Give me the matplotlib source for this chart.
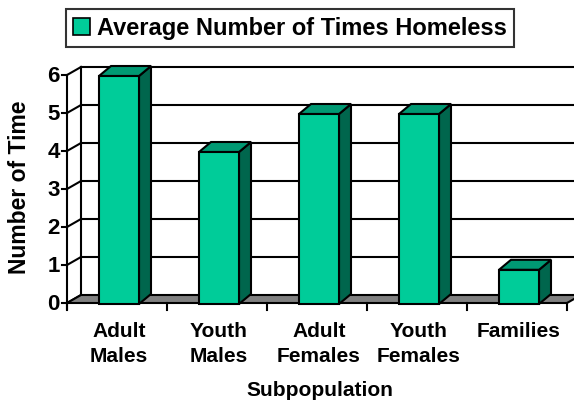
import matplotlib
matplotlib.use('Agg')
import matplotlib.pyplot as plt
import matplotlib.transforms as mtransforms
from matplotlib.patches import Polygon, Patch
from matplotlib.lines import Line2D
from matplotlib.transforms import IdentityTransform
import numpy as np

# ---- data ----
categories = ["Adult\nMales", "Youth\nMales", "Adult\nFemales", "Youth\nFemales", "Families"]
values = [6, 4, 5, 5, 0.9]
yticks = [0, 1, 2, 3, 4, 5, 6]
series_name = "Average Number of Times Homeless"
xlabel = "Subpopulation"
ylabel = "Number of Time"

plt.rcParams['font.family'] = ['Liberation Sans', 'DejaVu Sans']
plt.rcParams['font.weight'] = 'bold'

W, H = 574, 404
fig = plt.figure(figsize=(W / 100, H / 100), dpi=100)
fig.patch.set_facecolor('white')
ax = fig.add_axes([67 / W, (H - 303) / H, 500 / W, 228 / H])
ax.set_xlim(-0.5, len(categories) - 0.5)
ax.set_ylim(0, 6)
ax.axis('off')

FRONT = '#00CC99'
TOP = '#009973'
SIDE = '#00664D'
FLOOR = '#808080'
LW = 1.5

WALL = np.array([14, 8])     # depth of the chart box, in pixels
BAR_D = np.array([12, 10])   # depth of each bar
BAR_OFF = np.array([2, -1])  # shift of bar front face
BAR_W = 0.4

idt = IdentityTransform()


def P(x, y, off=(0, 0)):
    return ax.transData.transform((x, y)) + np.asarray(off, dtype=float)


def line(pts, z=2, **kw):
    pts = np.array(pts)
    ax.add_artist(Line2D(pts[:, 0], pts[:, 1], transform=idt, color='black',
                         lw=LW, clip_on=False, zorder=z, solid_capstyle='projecting', **kw))


def poly(pts, fc, z=3):
    ax.add_artist(Polygon(np.array(pts), closed=True, transform=idt, facecolor=fc,
                          edgecolor='black', lw=LW, clip_on=False, zorder=z,
                          joinstyle='miter'))


x0, x1 = -0.5, len(categories) - 0.5

# back wall gridlines
for v in yticks[1:]:
    line([P(x0, v, WALL), P(x1 + 0.2, v, WALL)], z=1)
line([P(x0, 0, WALL), P(x0, yticks[-1], WALL)], z=1)

# left wall diagonals + front axis ticks
for v in yticks:
    line([P(x0, v), P(x0, v, WALL)], z=2)
    line([P(x0, v, (-5, 0)), P(x0, v)], z=4)
line([P(x0, 0, (0, -6)), P(x0, yticks[-1])], z=4)

# floor
poly([P(x0, 0), P(x1, 0), P(x1, 0, WALL), P(x0, 0, WALL)], FLOOR, z=2)

# x ticks
for k in range(len(categories) + 1):
    line([P(x0 + k, 0), P(x0 + k, 0, (0, -7))], z=4)

# bars
for i, v in enumerate(values):
    fl = P(i - BAR_W / 2, 0, BAR_OFF)
    fr = P(i + BAR_W / 2, 0, BAR_OFF)
    tl = P(i - BAR_W / 2, v, BAR_OFF)
    tr = P(i + BAR_W / 2, v, BAR_OFF)
    poly([fr, fr + BAR_D, tr + BAR_D, tr], SIDE, z=3)
    poly([tl, tr, tr + BAR_D, tl + BAR_D], TOP, z=3)
    poly([fl, fr, tr, tl], FRONT, z=3)

# tick labels
lbl_off = mtransforms.offset_copy(ax.transData, fig=fig, x=-7, y=-1, units='dots')
for v in yticks:
    ax.text(x0, v, str(v), transform=lbl_off, ha='right', va='center',
            fontsize=16, fontweight='bold')

cat_off = mtransforms.offset_copy(ax.transData, fig=fig, x=2, y=-19, units='dots')
for i, c in enumerate(categories):
    ax.text(i, 0, c, transform=cat_off, ha='center', va='top', fontsize=15,
            fontweight='bold', linespacing=1.4)

fig.text(320 / W, 1 - 391 / H, xlabel, ha='center', va='center', fontsize=15, fontweight='bold')
fig.text(20 / W, 1 - 187 / H, ylabel, ha='center', va='center', rotation=90,
         fontsize=16.5, fontweight='bold')

handle = Patch(facecolor=FRONT, edgecolor='black', lw=1.2)
leg = fig.legend([handle], [series_name], loc='center',
                 bbox_to_anchor=(290 / W, 1 - 28 / H), frameon=True, fancybox=False,
                 fontsize=17, handlelength=0.75, handleheight=0.75, handletextpad=0.3,
                 borderpad=0.3, borderaxespad=0)
leg.get_frame().set_edgecolor('black')
leg.get_frame().set_linewidth(1.5)
for t in leg.get_texts():
    t.set_fontweight('bold')

fig.savefig('out.png', dpi=100)
